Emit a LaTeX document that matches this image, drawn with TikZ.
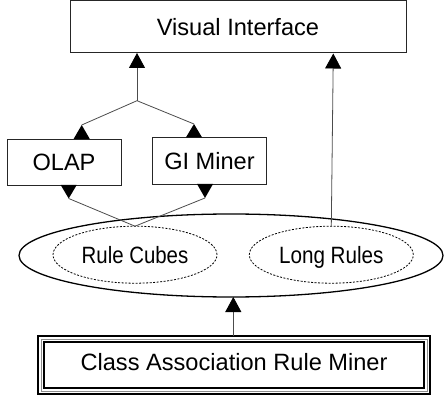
\documentclass[tikz,border=0pt]{standalone}
\usepackage{fontspec}
\setmainfont{Liberation Sans}
\usetikzlibrary{shapes.geometric,arrows.meta,calc}
\begin{document}
\begin{tikzpicture}[x=1pt,y=-1pt,
  box/.style={draw=black!85,line width=1pt,rectangle,inner sep=0pt,outer sep=0pt,
    font=\fontsize{23.6}{28}\selectfont,text height=16.9pt,text depth=0pt},
  bigell/.style={draw,ellipse,line width=1.3pt,inner sep=0pt,outer sep=0pt,
    minimum width=424pt,minimum height=83pt},
  dashell/.style={draw,ellipse,line width=0.8pt,dash pattern=on 2pt off 1.5pt,inner sep=0pt,outer sep=0pt,
    minimum width=164pt,minimum height=57pt,
    font=\fontsize{23.6}{28}\selectfont,text height=16.9pt,text depth=0pt},
  conn/.style={draw=black!70,line width=0.8pt},
  tip/.style={-{Triangle[width=16pt,length=15pt,black]}},
  tri/.style={fill=black}
]
\useasboundingbox (0,0) rectangle (444,398);

% nodes
\node[box,minimum width=336pt,minimum height=52pt] (vi) at (238,27) {Visual Interface};
\node[box,minimum width=114pt,minimum height=46pt] (olap) at (64,162.2) {OLAP};
\node[box,minimum width=114pt,minimum height=47pt] (gi) at (209.5,160.7) {GI Miner};
\node[bigell] (pool) at (231,255.5) {};
\node[dashell] (rc) at (135,254.7) {\scalebox{0.865}[1]{Rule Cubes}};
\node[dashell] (lr) at (331.3,254.7) {\scalebox{0.875}[1]{Long Rules}};
\node[box,draw=black,line width=2.6pt,double=white,double distance=3.4pt,
      minimum width=386.1pt,minimum height=51.85pt,text depth=5pt] (car) at (234.05,364.9)
      {Class Association Rule Miner};
\draw[black!45,line width=0.5pt] (car.north west) rectangle (car.south east);

% coordinates
\coordinate (j) at (137,100.7);
\coordinate (oT) at (81.7,125);
\coordinate (gT) at (194,124);
\coordinate (oB) at (68.7,198.5);
\coordinate (gB) at (205,198);
\coordinate (vir) at (333.3,53.5);

% connectors
\draw[conn,tip] (j) -- (j |- vi.south);
\draw[conn] (j) -- (oT);
\draw[conn] (j) -- (gT);
\fill[tri] (oT) -- ++(-8,13.8) -- ++(16,0) -- cycle;
\fill[tri] (gT) -- ++(-8,13.3) -- ++(16,0) -- cycle;

\draw[conn] (rc.north) -- (oB);
\draw[conn] (rc.north) -- (gB);
\fill[tri] (oB) -- ++(-8,-13.5) -- ++(16,0) -- cycle;
\fill[tri] (gB) -- ++(-8,-14) -- ++(16,0) -- cycle;

\draw[conn,tip] (lr.north) -- (vir);
\draw[conn,tip] (car.north -| 233.3,0) ++(0,-2.8) -- (pool.south -| 233.3,0);
\end{tikzpicture}
\end{document}
